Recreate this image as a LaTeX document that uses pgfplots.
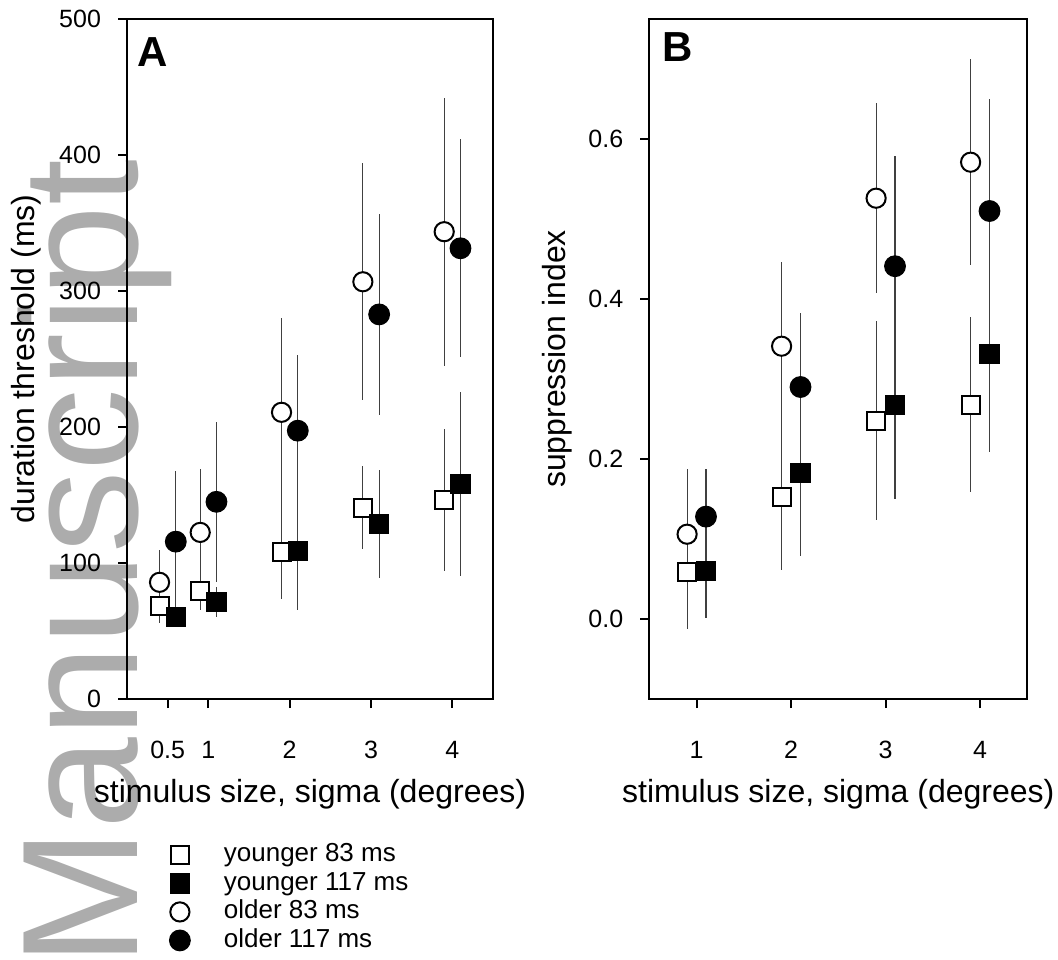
\documentclass[border=0pt]{standalone}
\usepackage{fontspec}
\setmainfont{Liberation Sans}
\usepackage{pgfplots}
\usepackage{pgfplotstable}
\pgfplotsset{compat=1.18}
\definecolor{wm}{RGB}{172,172,172}

% Panel A: duration threshold (ms)
\pgfplotstableread{
x y e
0.4 68.6 13
0.9 79.4 14
1.9 107.8 34
2.9 140.7 30.6
3.9 146.3 52
}\AyoungS
\pgfplotstableread{
x y e
0.6 60.5 7.5
1.1 71.6 11
2.1 108.8 43.4
3.1 128.7 39.5
4.1 158.1 67.5
}\AyoungL
\pgfplotstableread{
x y e
0.4 85.8 24
0.9 122.5 46.5
1.9 210.8 69.5
2.9 306.8 87
3.9 343.6 98.5
}\AolderS
\pgfplotstableread{
x y e
0.6 115.7 52
1.1 145.0 59
2.1 197.3 55.6
3.1 282.8 74
4.1 331.4 80
}\AolderL

% Panel B: suppression index
\pgfplotstableread{
x y e
0.9 0.059 0.071
1.9 0.152 0.091
2.9 0.248 0.124
3.9 0.268 0.109
}\ByoungS
\pgfplotstableread{
x y e
1.1 0.060 0.059
2.1 0.183 0.104
3.1 0.268 0.118
4.1 0.331 0.122
}\ByoungL
\pgfplotstableread{
x y e
0.9 0.106 0.081
1.9 0.341 0.105
2.9 0.526 0.119
3.9 0.571 0.129
}\BolderS
\pgfplotstableread{
x y e
1.1 0.128 0.059
2.1 0.290 0.092
3.1 0.441 0.138
4.1 0.510 0.140
}\BolderL

\pgfplotsset{
  panel/.style={
    scale only axis,
    height=340pt,
    axis line style={line width=1pt},
    tick align=outside,
    major tick length=4.5pt,
    every tick/.style={line width=1pt, black},
    xtick pos=bottom, ytick pos=left,
    tick label style={font=\fontsize{12.5}{15}\selectfont},
    /pgf/number format/assume math mode=true,
    xticklabel style={yshift=-13pt},
    yticklabel style={xshift=-5pt},
    label style={font=\fontsize{16}{19}\selectfont},
  },
  eb/.style={only marks, mark=none, forget plot,
    error bars/.cd, y dir=both, y explicit, error mark=none,
    error bar style={line width=0.55pt, black!75}},
  osq/.style={only marks, mark=square*, mark size=4.5pt,
    mark options={line width=1pt, fill=white, draw=black}},
  fsq/.style={only marks, mark=square*, mark size=4.8pt,
    mark options={line width=0.5pt, fill=black, draw=black}},
  oci/.style={only marks, mark=*, mark size=4.8pt,
    mark options={line width=1pt, fill=white, draw=black}},
  fci/.style={only marks, mark=*, mark size=5.2pt,
    mark options={line width=0.5pt, fill=black, draw=black}},
}

\begin{document}
\begin{tikzpicture}
\useasboundingbox (0,0) rectangle (529pt,479.5pt);
\begin{scope}
\clip (0,0) rectangle (529pt,479.5pt);
\node[rotate=90, anchor=base west, inner sep=0pt, text=wm,
      font=\fontsize{82.5}{82.5}\selectfont] at (68.5pt,-4pt) {Manuscript};
\end{scope}

\begin{axis}[panel,
  at={(63.5pt,130pt)}, anchor=south west,
  width=183pt,
  xmin=0, xmax=4.5, ymin=0, ymax=500,
  xtick={0.5,1,2,3,4}, xticklabels={0.5,1,2,3,4},
  ytick={0,100,200,300,400,500},
  xlabel={stimulus size, sigma (degrees)},
  ylabel={duration threshold (ms)},
  xlabel style={at={([yshift=-51.5pt]axis description cs:0.5,0)}, anchor=base},
  ylabel style={at={([xshift=-46pt]axis description cs:0,0.5)}, anchor=base},
  legend style={at={(axis description cs:0.115,-0.2096)}, anchor=north west,
    draw=none, fill=none, inner sep=0pt, row sep=1.25pt,
    font=\fontsize{13}{15}\selectfont,
    nodes={inner sep=0pt, text height=10pt, text depth=3pt}},
  legend cell align=left,
  legend image code/.code={\draw[#1] plot coordinates {(0pt,0pt)}; \path[draw=none, fill=none] (-5pt,-5pt) rectangle (22pt,5pt);},
]
\addplot[eb] table[x=x, y=y, y error=e] {\AyoungS};
\addplot[eb] table[x=x, y=y, y error=e] {\AyoungL};
\addplot[eb] table[x=x, y=y, y error=e] {\AolderS};
\addplot[eb] table[x=x, y=y, y error=e] {\AolderL};
\addplot[osq] table[x=x, y=y] {\AyoungS};
\addplot[fsq] table[x=x, y=y] {\AyoungL};
\addplot[oci] table[x=x, y=y] {\AolderS};
\addplot[fci] table[x=x, y=y] {\AolderL};
\legend{younger 83 ms, younger 117 ms, older 83 ms, older 117 ms}
\node[anchor=north west, inner sep=0pt, font=\bfseries\fontsize{21}{21}\selectfont]
  at (rel axis cs:0.0273,0.9735) {A};
\end{axis}

\begin{axis}[panel,
  at={(324.65pt,130pt)}, anchor=south west,
  width=189pt,
  xmin=0.5, xmax=4.5, ymin=-0.1, ymax=0.75,
  xtick={1,2,3,4}, xticklabels={1,2,3,4},
  ytick={0,0.2,0.4,0.6}, yticklabels={0.0,0.2,0.4,0.6},
  xlabel={stimulus size, sigma (degrees)},
  ylabel={suppression index},
  xlabel style={at={([yshift=-51.5pt]axis description cs:0.5,0)}, anchor=base},
  ylabel style={at={([xshift=-42pt]axis description cs:0,0.5)}, anchor=base},
]
\addplot[eb] table[x=x, y=y, y error=e] {\ByoungS};
\addplot[eb] table[x=x, y=y, y error=e] {\ByoungL};
\addplot[eb] table[x=x, y=y, y error=e] {\BolderS};
\addplot[eb] table[x=x, y=y, y error=e] {\BolderL};
\addplot[osq] table[x=x, y=y] {\ByoungS};
\addplot[fsq] table[x=x, y=y] {\ByoungL};
\addplot[oci] table[x=x, y=y] {\BolderS};
\addplot[fci] table[x=x, y=y] {\BolderL};
\node[anchor=north west, inner sep=0pt, font=\bfseries\fontsize{21}{21}\selectfont]
  at (rel axis cs:0.0336,0.98) {B};
\end{axis}
\end{tikzpicture}
\end{document}
